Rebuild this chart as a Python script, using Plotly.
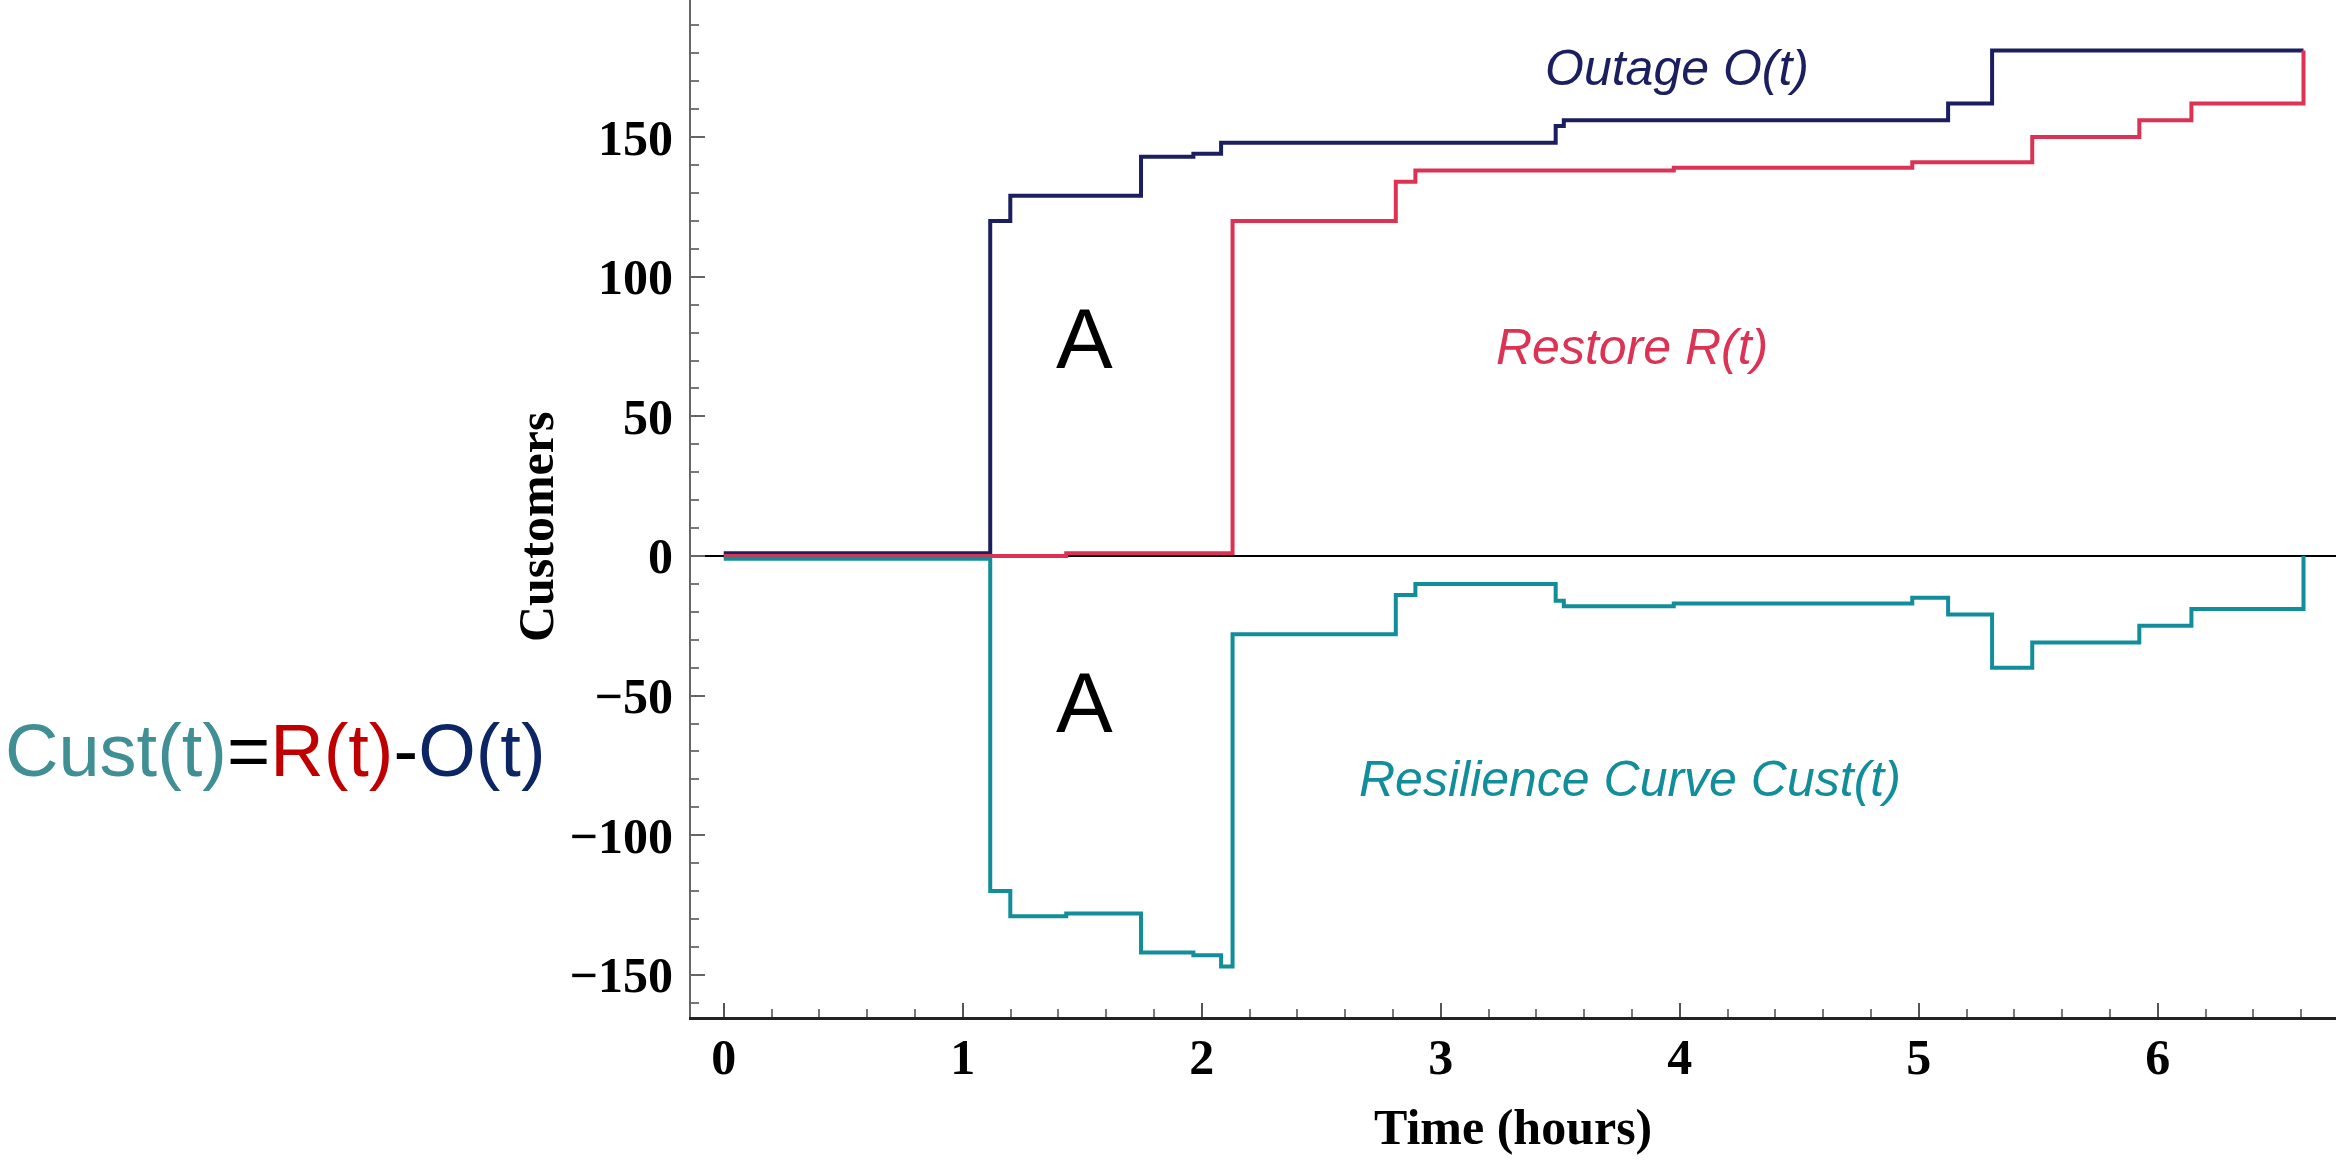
import plotly.graph_objects as go

# Outage O(t): customers out of service, stepping up at each event (hours)
outage_t = [0, 1.115, 1.199, 1.746, 1.965, 2.081, 3.481, 3.515, 5.123, 5.307, 6.61]
outage_n = [1, 120, 129, 143, 144, 148, 154, 156, 162, 181, 181]

# Restore R(t): customers brought back
restore_t = [0, 1.433, 2.129, 2.812, 2.894, 3.975, 4.973, 5.475, 5.923, 6.141, 6.61]
restore_n = [0, 1, 120, 134, 138, 139, 141, 150, 156, 162, 181]

# Resilience curve Cust(t) = R(t) - O(t)
cust_t = [0, 1.115, 1.199, 1.433, 1.746, 1.965, 2.081, 2.129, 2.812, 2.894,
          3.481, 3.515, 3.975, 4.973, 5.123, 5.307, 5.475, 5.923, 6.141, 6.61]
cust_n = [-1, -120, -129, -128, -142, -143, -147, -28, -14, -10,
          -16, -18, -17, -15, -21, -40, -31, -25, -19, 0]

x_ticks = [0, 1, 2, 3, 4, 5, 6]
y_ticks = [-150, -100, -50, 0, 50, 100, 150]

NAVY = "#1b1f5f"
RED = "#dc3354"
TEAL = "#128e9b"

SERIF = "Liberation Serif, Times New Roman, serif"
SANS = "Liberation Sans, Arial, sans-serif"

fig = go.Figure()
fig.add_trace(go.Scatter(x=outage_t, y=outage_n, mode="lines",
                         line=dict(shape="hv", color=NAVY, width=4)))
fig.add_trace(go.Scatter(x=restore_t, y=restore_n, mode="lines",
                         line=dict(shape="hv", color=RED, width=4)))
fig.add_trace(go.Scatter(x=cust_t, y=cust_n, mode="lines",
                         line=dict(shape="hv", color=TEAL, width=4)))

tick_font = dict(family=SERIF, size=50, color="black", weight="bold")

fig.update_xaxes(
    range=[-0.137, 6.746],
    tickvals=x_ticks, ticktext=[str(v) for v in x_ticks],
    ticks="inside", ticklen=14, tickwidth=2, tickcolor="#555",
    minor=dict(dtick=0.2, tick0=0, ticks="inside", ticklen=8, tickwidth=1.5, tickcolor="#777"),
    showline=True, linecolor="#222", linewidth=2.5,
    showgrid=False, zeroline=False,
    tickfont=tick_font, ticklabelstandoff=-6,
)
fig.update_yaxes(
    range=[-165.1, 199.1],
    tickvals=y_ticks, ticktext=[("\u2212" + str(-v)) if v < 0 else str(v) for v in y_ticks],
    ticks="inside", ticklen=14, tickwidth=2, tickcolor="#666",
    minor=dict(dtick=10, tick0=0, ticks="inside", ticklen=8, tickwidth=1.5, tickcolor="#777"),
    showline=True, linecolor="#666", linewidth=2,
    showgrid=False, zeroline=True, zerolinecolor="black", zerolinewidth=2,
    tickfont=tick_font, ticklabelstandoff=6,
)

annotations = [
    dict(x=3.99, y=174.8, xref="x", yref="y", text="<i>Outage O(t)</i>",
         font=dict(family=SANS, size=50, color=NAVY)),
    dict(x=3.80, y=74.9, xref="x", yref="y", text="<i>Restore R(t)</i>",
         font=dict(family=SANS, size=50, color=RED)),
    dict(x=3.79, y=-79.9, xref="x", yref="y", text="<i>Resilience Curve Cust(t)</i>",
         font=dict(family=SANS, size=50, color=TEAL)),
    dict(x=1.51, y=77.9, xref="x", yref="y", text="A",
         font=dict(family=SANS, size=85, color="black")),
    dict(x=1.51, y=-52.3, xref="x", yref="y", text="A",
         font=dict(family=SANS, size=85, color="black")),
    dict(x=-0.4185, y=0.262, xref="paper", yref="paper", xanchor="left", yanchor="middle",
         text=("<span style='color:#3f8f94'>Cust(t)</span>"
               "<span style='color:black'>=</span>"
               "<span style='color:#c00000'>R(t)</span>"
               "<span style='color:black'>-</span>"
               "<span style='color:#0b2565'>O(t)</span>"),
         font=dict(family=SANS, size=74)),
    dict(x=-0.0942, y=0.4818, xref="paper", yref="paper", textangle=-90,
         xanchor="center", yanchor="middle", text="<b>Customers</b>",
         font=dict(family=SERIF, size=50, color="black")),
    dict(x=0.4995, y=-0.108, xref="paper", yref="paper",
         xanchor="center", yanchor="middle", text="<b>Time (hours)</b>",
         font=dict(family=SERIF, size=50, color="black")),
]
for a in annotations:
    a.setdefault("showarrow", False)
    a.setdefault("xanchor", "center")
    a.setdefault("yanchor", "middle")
fig.update_layout(annotations=annotations)

fig.update_layout(
    width=2336, height=1160,
    margin=dict(l=691, r=0, t=0, b=143, pad=0),
    paper_bgcolor="white", plot_bgcolor="white",
    showlegend=False,
)

fig.write_html("out.html")
